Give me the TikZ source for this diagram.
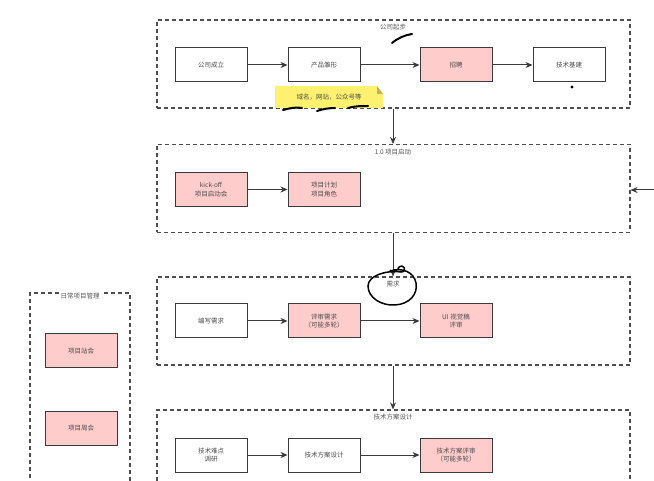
\documentclass[tikz,border=0pt]{standalone}
\usepackage{fontspec}
\setmainfont{Noto Sans CJK SC}
\usetikzlibrary{arrows.meta,shapes.geometric}
\definecolor{pinkfill}{HTML}{FFCCCC}
\definecolor{edge}{HTML}{3A3A3A}
\definecolor{notey}{HTML}{FFF170}
\tikzset{
  stepbox/.style={rectangle,draw=edge,line width=1pt,fill=white,minimum width=72pt,minimum height=34pt,align=center,inner sep=1pt,font=\fontsize{6.5}{8.5}\selectfont,text=black!70},
  hot/.style={fill=pinkfill},
  groupbox/.style={rectangle,draw=edge!90,line width=1.1pt,dash pattern=on 4pt off 3pt,minimum width=473pt,minimum height=88pt},
  gtitle/.style={font=\fontsize{6.5}{8}\selectfont,text=black!65,inner sep=1pt},
  arr/.style={draw=edge,line width=1pt,-{Stealth[length=7pt,width=6pt]}},
  ink/.style={draw=black,line width=2pt,line cap=round},
}
\begin{document}
\begin{tikzpicture}[x=1pt,y=-1pt]
\clip (0,0) rectangle (654,481);
\fill[white] (0,0) rectangle (654,481);

% group frames
\node[groupbox] (g1) at (393.5,64) {};
\node[groupbox] (g2) at (393.5,188.5) {};
\node[groupbox] (g3) at (393.5,321) {};
\node[groupbox,minimum height=100pt] (g4) at (393.5,460) {};
\node[groupbox,minimum width=100pt,minimum height=214pt] (g5) at (80,400) {};

\node[gtitle] (t1) at (393,27) {公司起步};
\node[gtitle] (t2) at (393,152) {1.0 项目启动};
\node[gtitle] (t3) at (393,284) {需求};
\node[gtitle] (t4) at (393,417) {技术方案设计};
\node[gtitle,fill=white] (t5) at (80,296) {日常项目管理};

% row 1
\node[stepbox] (a1) at (211,65) {公司成立};
\node[stepbox] (a2) at (324,65) {产品雏形};
\node[stepbox,hot] (a3) at (456,65) {招聘};
\node[stepbox] (a4) at (569,65) {技术基建};
\draw[arr] (a1) -- (a2);
\draw[arr] (a2) -- (a3);
\draw[arr] (a3) -- (a4);

% sticky note
\fill[notey] (275,86) -- (377,86) -- (383,94) -- (383,108) -- (275,108) -- cycle;
\fill[notey!75!black] (377,86) -- (377,94) -- (383,94) -- cycle;
\node[font=\fontsize{6.5}{8}\selectfont,text=black!70,inner sep=0pt] (note) at (329,97) {域名，网站，公众号等};

% row 2
\node[stepbox,hot] (b1) at (211,189.5) {kick-off\\项目启动会};
\node[stepbox,hot] (b2) at (324,189.5) {项目计划\\项目角色};
\draw[arr] (b1) -- (b2);

% row 3
\node[stepbox] (c1) at (211,321) {编写需求};
\node[stepbox,hot] (c2) at (324,321) {评审需求\\（可能多轮）};
\node[stepbox,hot] (c3) at (456,321) {UI 视觉稿\\评审};
\draw[arr] (c1) -- (c2);
\draw[arr] (c2) -- (c3);

% row 4
\node[stepbox] (d1) at (211,455) {技术难点\\调研};
\node[stepbox] (d2) at (324,455) {技术方案设计};
\node[stepbox,hot] (d3) at (456,455) {技术方案评审\\（可能多轮）};
\draw[arr] (d1) -- (d2);
\draw[arr] (d2) -- (d3);

% left column
\node[stepbox,hot] (e1) at (81,351) {项目站会};
\node[stepbox,hot] (e2) at (81,428) {项目周会};

% vertical connectors
\draw[arr] (g1.south -| t1) -- (g2.north -| t1);
\draw[arr] (g2.south -| t1) -- (g3.north -| t1);
\draw[arr] (g3.south -| t1) -- (g4.north -| t1);
\coordinate (rin) at (660,190);
\draw[arr] (rin) -- (g2.east |- rin);

% hand-drawn marks
\draw[ink] (392,43) .. controls (398,38) and (405,35) .. (412,34);
\draw[ink] (283,110) .. controls (290,108) and (296,107) .. (302,108);
\draw[ink] (317,111) .. controls (323,109) and (329,108) .. (335,108);
\draw[ink] (348,108) .. controls (355,106) and (362,106) .. (368,106);
\fill[black] (572,87) circle (1.6pt);
\draw[black,line width=1.5pt,line cap=round] (398,268) .. controls (404,262) and (408,272) .. (401,272)
  .. controls (385,270) and (368,276) .. (368,286)
  .. controls (368,298) and (382,306) .. (395,305)
  .. controls (410,304) and (418,294) .. (416,283)
  .. controls (414,272) and (402,267) .. (390,271);
\end{tikzpicture}
\end{document}
